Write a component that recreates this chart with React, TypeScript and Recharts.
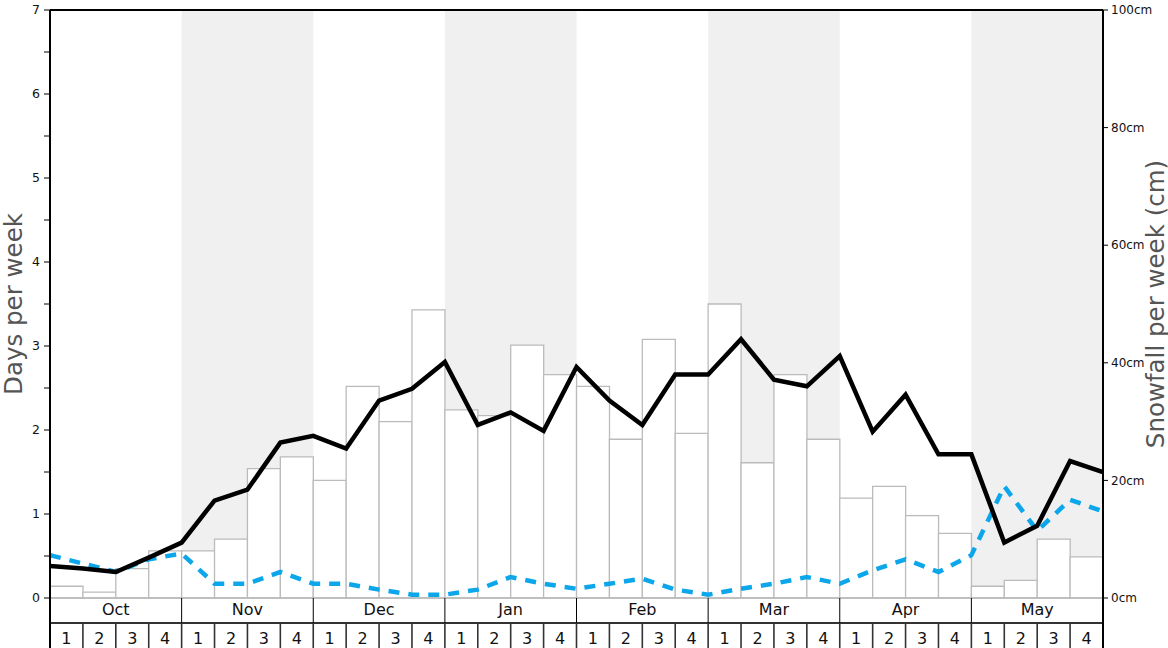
import React from 'react';
import { ComposedChart, Bar, Line, XAxis, YAxis, ReferenceArea, ReferenceLine } from 'recharts';

const MONTHS = ['Oct', 'Nov', 'Dec', 'Jan', 'Feb', 'Mar', 'Apr', 'May'];
const WEEK_LABELS = ['1', '2', '3', '4'];
const SHADED_MONTHS = ['Nov', 'Jan', 'Mar', 'May'];

// Snowfall per week (cm), one value per week Oct-1 .. May-4
const SNOWFALL_CM = [
  2, 1, 5, 8,
  8, 10, 22, 24,
  20, 36, 30, 49,
  32, 31, 43, 38,
  36, 27, 44, 28,
  50, 23, 38, 27,
  17, 19, 14, 11,
  2, 3, 10, 7,
];

// Days per week, sampled at the week boundaries (33 points)
const SNOW_DAYS = [
  0.38, 0.35, 0.31, 0.48, 0.66, 1.16, 1.29, 1.85, 1.93, 1.78, 2.35, 2.49, 2.81,
  2.06, 2.21, 1.99, 2.75, 2.35, 2.06, 2.66, 2.66, 3.08, 2.6, 2.52, 2.88, 1.98,
  2.42, 1.71, 1.71, 0.66, 0.86, 1.63, 1.5,
];
const RAIN_DAYS = [
  0.51, 0.41, 0.31, 0.46, 0.53, 0.17, 0.17, 0.31, 0.17, 0.17, 0.1, 0.04, 0.04,
  0.1, 0.25, 0.17, 0.11, 0.17, 0.23, 0.1, 0.04, 0.11, 0.17, 0.25, 0.17, 0.33,
  0.46, 0.31, 0.51, 1.33, 0.8, 1.17, 1.03,
];

const DAYS_TICKS = [0, 0.5, 1, 1.5, 2, 2.5, 3, 3.5, 4, 4.5, 5, 5.5, 6, 6.5, 7];
const CM_TICKS = [0, 20, 40, 60, 80, 100];

const WEEKS_PER_MONTH = WEEK_LABELS.length;
const TOTAL_WEEKS = MONTHS.length * WEEKS_PER_MONTH;

const weekData = MONTHS.flatMap((m, mi) =>
  WEEK_LABELS.map((w, wi) => ({
    key: `${m}-${w}`,
    month: m,
    week: w,
    snow: SNOWFALL_CM[mi * WEEKS_PER_MONTH + wi],
  }))
);

const lineData = SNOW_DAYS.map((v, i) => ({ pos: i, snowDays: v, rainDays: RAIN_DAYS[i] }));

const monthMidTicks = MONTHS.map((_, mi) => mi * WEEKS_PER_MONTH + WEEKS_PER_MONTH / 2);

const FONT = 'DejaVu Sans, sans-serif';
const ROW_H = 25;

const MonthTick = (props: any) => {
  const { x, y, payload, width, index } = props;
  const unit = width / TOTAL_WEEKS;
  const half = (unit * WEEKS_PER_MONTH) / 2;
  const label = MONTHS[Math.round((payload.value - WEEKS_PER_MONTH / 2) / WEEKS_PER_MONTH)];
  const isFirst = index === 0;
  const isLast = index === MONTHS.length - 1;
  return (
    <g>
      <line x1={x - half} x2={x - half} y1={y} y2={y + ROW_H} stroke="#000" strokeWidth={isFirst ? 2 : 1} />
      {isLast && <line x1={x + half} x2={x + half} y1={y} y2={y + ROW_H} stroke="#000" strokeWidth={2} />}
      <text x={x} y={y + 17} textAnchor="middle" fontSize={16} fontFamily={FONT} fill="#111">
        {label}
      </text>
    </g>
  );
};

const WeekTick = (props: any) => {
  const { x, y, payload, width, index } = props;
  const half = payload && payload.offset ? payload.offset : width / TOTAL_WEEKS / 2;
  const isFirst = index === 0;
  const isLast = index === TOTAL_WEEKS - 1;
  const label = weekData[index] ? weekData[index].week : '';
  return (
    <g>
      <line x1={x - half} x2={x - half} y1={y} y2={y + ROW_H + 2} stroke={isFirst ? '#000' : '#333'} strokeWidth={isFirst ? 2 : 1.6} />
      {isLast && <line x1={x + half} x2={x + half} y1={y} y2={y + ROW_H + 2} stroke="#000" strokeWidth={2} />}
      <text x={x} y={y + 21} textAnchor="middle" fontSize={16} fontFamily={FONT} fill="#111">
        {label}
      </text>
    </g>
  );
};

const LeftTitle = (props: any) => {
  const { viewBox } = props;
  const cx = viewBox.x + 13;
  const cy = viewBox.y + viewBox.height / 2;
  return (
    <text x={cx} y={cy} transform={`rotate(-90 ${cx} ${cy})`} textAnchor="middle" dominantBaseline="central" fontSize={24.5} fontFamily={FONT} fill="#555">
      Days per week
    </text>
  );
};

const RightTitle = (props: any) => {
  const { viewBox } = props;
  const cx = viewBox.x + 52;
  const cy = viewBox.y + viewBox.height / 2;
  return (
    <text x={cx} y={cy} transform={`rotate(-90 ${cx} ${cy})`} textAnchor="middle" dominantBaseline="central" fontSize={24.5} fontFamily={FONT} fill="#555">
      Snowfall per week (cm)
    </text>
  );
};

const MONTH_AXIS = 'a-month';
const WEEK_AXIS = 'b-week';

export default function App() {
  return (
    <div style={{ position: 'absolute', left: 0, top: 0, width: 1168, height: 648, background: '#fff' }}>
      <ComposedChart
        width={1168}
        height={648}
        data={weekData}
        margin={{ top: 10, right: 0, bottom: 0, left: 0 }}
        barCategoryGap={0}
        barGap={0}
      >
        <XAxis
          xAxisId={MONTH_AXIS}
          type="number"
          dataKey="pos"
          domain={[0, TOTAL_WEEKS]}
          allowDataOverflow
          ticks={monthMidTicks}
          interval={0}
          height={ROW_H}
          tickLine={false}
          tickSize={0}
          tickMargin={0}
          axisLine={{ stroke: '#bbb', strokeWidth: 1.5 }}
          tick={<MonthTick />}
        />
        <XAxis
          xAxisId={WEEK_AXIS}
          dataKey="key"
          type="category"
          interval={0}
          height={ROW_H}
          tickLine={false}
          tickSize={0}
          tickMargin={0}
          axisLine={{ stroke: '#333', strokeWidth: 2 }}
          tick={<WeekTick />}
        />
        <YAxis
          yAxisId="days"
          orientation="left"
          domain={[0, 7]}
          ticks={DAYS_TICKS}
          interval={0}
          width={50}
          tickSize={6}
          tickMargin={4}
          tickLine={{ stroke: '#000', strokeWidth: 1 }}
          axisLine={{ stroke: '#000', strokeWidth: 2 }}
          tickFormatter={(v: number) => (Number.isInteger(v) ? String(v) : '')}
          tick={{ fontSize: 12.5, fontFamily: FONT, fill: '#111' }}
          label={<LeftTitle />}
        />
        <YAxis
          yAxisId="cm"
          orientation="right"
          domain={[0, 100]}
          ticks={CM_TICKS}
          interval={0}
          width={65}
          tickSize={5}
          tickMargin={3}
          tickLine={{ stroke: '#000', strokeWidth: 1 }}
          axisLine={{ stroke: '#000', strokeWidth: 2 }}
          tickFormatter={(v: number) => `${v}cm`}
          tick={{ fontSize: 12, fontFamily: FONT, fill: '#111', textAnchor: 'start' }}
          label={<RightTitle />}
        />
        {MONTHS.map((m, mi) =>
          SHADED_MONTHS.includes(m) ? (
            <ReferenceArea
              key={m}
              xAxisId={MONTH_AXIS}
              yAxisId="days"
              x1={mi * WEEKS_PER_MONTH}
              x2={(mi + 1) * WEEKS_PER_MONTH}
              y1={0}
              y2={7}
              fill="#f0f0f0"
              fillOpacity={1}
              stroke="none"
              ifOverflow="hidden"
            />
          ) : null
        )}
        <Bar
          xAxisId={WEEK_AXIS}
          yAxisId="cm"
          dataKey="snow"
          fill="#fff"
          stroke="#bbb"
          strokeWidth={1.3}
          isAnimationActive={false}
        />
        <Line
          xAxisId={MONTH_AXIS}
          yAxisId="days"
          data={lineData}
          dataKey="rainDays"
          type="linear"
          stroke="#0ca6ea"
          strokeWidth={4.5}
          strokeDasharray="11 9"
          dot={false}
          activeDot={false}
          isAnimationActive={false}
        />
        <Line
          xAxisId={MONTH_AXIS}
          yAxisId="days"
          data={lineData}
          dataKey="snowDays"
          type="linear"
          stroke="#000"
          strokeWidth={4.5}
          dot={false}
          activeDot={false}
          isAnimationActive={false}
        />
        <ReferenceLine xAxisId={MONTH_AXIS} yAxisId="days" y={7} stroke="#000" strokeWidth={2} />
      </ComposedChart>
    </div>
  );
}
